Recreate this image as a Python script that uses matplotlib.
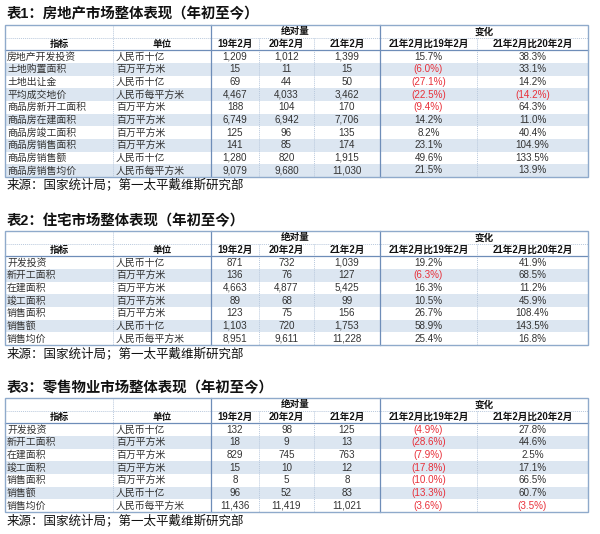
import matplotlib
matplotlib.use("Agg")
import matplotlib.pyplot as plt
from matplotlib.patches import Rectangle

plt.rcParams['font.family'] = ['Liberation Sans', 'Noto Sans CJK SC', 'DejaVu Sans']

# ---------------- data ----------------
titles = ["表1：房地产市场整体表现（年初至今）",
          "表2：住宅市场整体表现（年初至今）",
          "表3：零售物业市场整体表现（年初至今）"]
source_text = "来源：国家统计局；第一太平戴维斯研究部"
group_headers = ["绝对量", "变化"]
col_headers = ["指标", "单位", "19年2月", "20年2月", "21年2月", "21年2月比19年2月", "21年2月比20年2月"]

t1_names = ["房地产开发投资", "土地购置面积", "土地出让金", "平均成交地价", "商品房新开工面积",
            "商品房在建面积", "商品房竣工面积", "商品房销售面积", "商品房销售额", "商品房销售均价"]
t1_units = ["人民币十亿", "百万平方米", "人民币十亿", "人民币每平方米", "百万平方米",
            "百万平方米", "百万平方米", "百万平方米", "人民币十亿", "人民币每平方米"]
t1_19 = [1209, 15, 69, 4467, 188, 6749, 125, 141, 1280, 9079]
t1_20 = [1012, 11, 44, 4033, 104, 6942, 96, 85, 820, 9680]
t1_21 = [1399, 15, 50, 3462, 170, 7706, 135, 174, 1915, 11030]
t1_vs19 = [15.7, -6.0, -27.1, -22.5, -9.4, 14.2, 8.2, 23.1, 49.6, 21.5]
t1_vs20 = [38.3, 33.1, 14.2, -14.2, 64.3, 11.0, 40.4, 104.9, 133.5, 13.9]

t2_names = ["开发投资", "新开工面积", "在建面积", "竣工面积", "销售面积", "销售额", "销售均价"]
t2_units = ["人民币十亿", "百万平方米", "百万平方米", "百万平方米", "百万平方米", "人民币十亿", "人民币每平方米"]
t2_19 = [871, 136, 4663, 89, 123, 1103, 8951]
t2_20 = [732, 76, 4877, 68, 75, 720, 9611]
t2_21 = [1039, 127, 5425, 99, 156, 1753, 11228]
t2_vs19 = [19.2, -6.3, 16.3, 10.5, 26.7, 58.9, 25.4]
t2_vs20 = [41.9, 68.5, 11.2, 45.9, 108.4, 143.5, 16.8]

t3_names = ["开发投资", "新开工面积", "在建面积", "竣工面积", "销售面积", "销售额", "销售均价"]
t3_units = ["人民币十亿", "百万平方米", "百万平方米", "百万平方米", "百万平方米", "人民币十亿", "人民币每平方米"]
t3_19 = [132, 18, 829, 15, 8, 96, 11436]
t3_20 = [98, 9, 745, 10, 5, 52, 11419]
t3_21 = [125, 13, 763, 12, 8, 83, 11021]
t3_vs19 = [-4.9, -28.6, -7.9, -17.8, -10.0, -13.3, -3.6]
t3_vs20 = [27.8, 44.6, 2.5, 17.1, 66.5, 60.7, -3.5]

tables = [
    (t1_names, t1_units, t1_19, t1_20, t1_21, t1_vs19, t1_vs20),
    (t2_names, t2_units, t2_19, t2_20, t2_21, t2_vs19, t2_vs20),
    (t3_names, t3_units, t3_19, t3_20, t3_21, t3_vs19, t3_vs20),
]

# ---------------- layout ----------------
W, H = 600, 534
fig = plt.figure(figsize=(6.0, 5.34), dpi=100)
ax = fig.add_axes([0, 0, 1, 1])
ax.set_xlim(0, W)
ax.set_ylim(H, 0)
ax.axis('off')

col_x = [5, 113, 211, 259, 314, 380, 477, 588]
row_h = 12.65
title_y = [14, 221, 388]
table_top = [25, 231, 398]

fill_blue = "#DCE6F1"
border = "#8FAACB"
solid_line = "#6E8DB8"
dotted = "#B9C9DD"
txt = "#333333"
red = "#E8303A"
fs = 7.1
fs_hdr = 6.9
fs_title = 10.4
fs_src = 9.0


def fmt_num(v):
    return f"{v:,}"


def fmt_pct(v):
    if v < 0:
        return f"({abs(v):.1f}%)", red
    return f"{v:.1f}%", txt


for ti, (names, units, v19, v20, v21, p19, p20) in enumerate(tables):
    top = table_top[ti]
    n = len(names)
    ax.text(7, title_y[ti], titles[ti], fontsize=fs_title, fontweight='bold',
            color='#111111', ha='left', va='center')
    h1 = top + row_h
    h2 = top + 2 * row_h
    bottom = h2 + n * row_h
    # row fills (every second data row shaded)
    for r in range(n):
        y0 = h2 + r * row_h
        if r % 2 == 1:
            ax.add_patch(Rectangle((col_x[0], y0), col_x[-1] - col_x[0], row_h,
                                   facecolor=fill_blue, edgecolor='none', zorder=1))
    ax.plot([col_x[0], col_x[-1]], [h1, h1], color=dotted, lw=0.7, ls=(0, (1, 1)), zorder=2)
    ax.plot([col_x[1], col_x[1]], [top, bottom], color=dotted, lw=0.7, ls=(0, (1, 1)), zorder=2)
    for cx in (col_x[3], col_x[4], col_x[6]):
        ax.plot([cx, cx], [h1, bottom], color=dotted, lw=0.7, ls=(0, (1, 1)), zorder=2)
    ax.plot([col_x[0], col_x[-1]], [h2, h2], color=solid_line, lw=0.9, zorder=3)
    for cx in (col_x[2], col_x[5]):
        ax.plot([cx, cx], [top, bottom], color=solid_line, lw=0.9, zorder=3)
    ax.add_patch(Rectangle((col_x[0], top), col_x[-1] - col_x[0], bottom - top,
                           facecolor='none', edgecolor=border, lw=1.0, zorder=3))
    ax.text((col_x[2] + col_x[5]) / 2, top + row_h / 2, group_headers[0], fontsize=fs_hdr,
            fontweight='bold', color='#111111', ha='center', va='center', zorder=4)
    ax.text((col_x[5] + col_x[7]) / 2, top + row_h / 2, group_headers[1], fontsize=fs_hdr,
            fontweight='bold', color='#111111', ha='center', va='center', zorder=4)
    for c, lab in enumerate(col_headers):
        ax.text((col_x[c] + col_x[c + 1]) / 2, h1 + row_h / 2, lab, fontsize=fs_hdr,
                fontweight='bold', color='#111111', ha='center', va='center', zorder=4)
    for r in range(n):
        yc = h2 + r * row_h + row_h / 2
        ax.text(col_x[0] + 2, yc, names[r], fontsize=fs, color=txt, ha='left', va='center', zorder=4)
        ax.text(col_x[1] + 3, yc, units[r], fontsize=fs, color=txt, ha='left', va='center', zorder=4)
        for c, vals in zip((2, 3, 4), (v19, v20, v21)):
            ax.text((col_x[c] + col_x[c + 1]) / 2, yc, fmt_num(vals[r]), fontsize=fs,
                    color=txt, ha='center', va='center', zorder=4)
        for c, vals in zip((5, 6), (p19, p20)):
            s, col = fmt_pct(vals[r])
            ax.text((col_x[c] + col_x[c + 1]) / 2, yc, s, fontsize=fs,
                    color=col, ha='center', va='center', zorder=4)
    ax.text(7, bottom + 8.5, source_text, fontsize=fs_src, color='#111111',
            ha='left', va='center', zorder=4)

fig.savefig("out.png", dpi=100, facecolor='white')
